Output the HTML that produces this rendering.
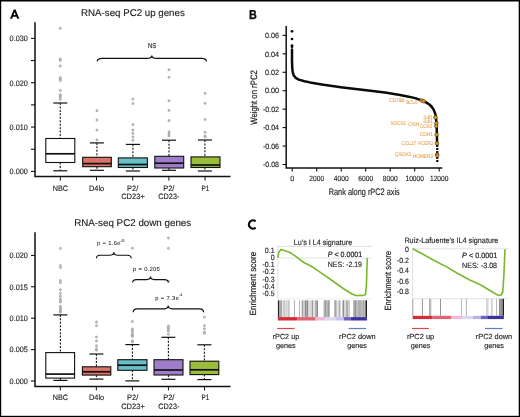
<!DOCTYPE html><html><head><meta charset="utf-8"><style>
html,body{margin:0;padding:0;background:#fff;width:520px;height:417px;overflow:hidden}
svg{display:block;font-family:"Liberation Sans",sans-serif;will-change:transform;text-rendering:geometricPrecision}
</style></head><body>
<svg width="520" height="417" viewBox="0 0 520 417">
<rect width="520" height="417" fill="#fff"/>
<g>
<path d="M10,18.7 L13.7,9.5 L15.6,9.5 L19.3,18.7 L17.2,18.7 L16.44,16.8 L12.86,16.8 L12.1,18.7 Z M13.57,15 L15.73,15 L14.65,12.3 Z" fill="#0a0a0a" fill-rule="evenodd"/>
<text x="81" y="15.9" font-size="9.8" textLength="103.8" lengthAdjust="spacingAndGlyphs" fill="#1c1c1c" stroke="#1c1c1c" stroke-width="0.13" >RNA-seq PC2 up genes</text>
<path d="M35,22.2 L35,176.6 L230.5,176.6" fill="none" stroke="#111" stroke-width="1.5"/>
<line x1="31" y1="171.40" x2="35" y2="171.40" stroke="#111" stroke-width="1.1"/>
<text x="27.9" y="174.2" font-size="7.9" text-anchor="end" textLength="18.3" lengthAdjust="spacingAndGlyphs" fill="#1c1c1c" stroke="#1c1c1c" stroke-width="0.13" >0.000</text>
<line x1="31" y1="149.23" x2="35" y2="149.23" stroke="#111" stroke-width="1.1"/>
<line x1="31" y1="127.06" x2="35" y2="127.06" stroke="#111" stroke-width="1.1"/>
<text x="27.9" y="129.86" font-size="7.9" text-anchor="end" textLength="18.3" lengthAdjust="spacingAndGlyphs" fill="#1c1c1c" stroke="#1c1c1c" stroke-width="0.13" >0.010</text>
<line x1="31" y1="104.89" x2="35" y2="104.89" stroke="#111" stroke-width="1.1"/>
<line x1="31" y1="82.72" x2="35" y2="82.72" stroke="#111" stroke-width="1.1"/>
<text x="27.9" y="85.52" font-size="7.9" text-anchor="end" textLength="18.3" lengthAdjust="spacingAndGlyphs" fill="#1c1c1c" stroke="#1c1c1c" stroke-width="0.13" >0.020</text>
<line x1="31" y1="60.55" x2="35" y2="60.55" stroke="#111" stroke-width="1.1"/>
<line x1="31" y1="38.38" x2="35" y2="38.38" stroke="#111" stroke-width="1.1"/>
<text x="27.9" y="41.18" font-size="7.9" text-anchor="end" textLength="18.3" lengthAdjust="spacingAndGlyphs" fill="#1c1c1c" stroke="#1c1c1c" stroke-width="0.13" >0.030</text>
<line x1="60.3" y1="176.6" x2="60.3" y2="180.6" stroke="#111" stroke-width="1.0"/>
<line x1="96.5" y1="176.6" x2="96.5" y2="180.6" stroke="#111" stroke-width="1.0"/>
<line x1="132.7" y1="176.6" x2="132.7" y2="180.6" stroke="#111" stroke-width="1.0"/>
<line x1="168.9" y1="176.6" x2="168.9" y2="180.6" stroke="#111" stroke-width="1.0"/>
<line x1="205.1" y1="176.6" x2="205.1" y2="180.6" stroke="#111" stroke-width="1.0"/>
<text x="60.4" y="190.5" font-size="7.8" text-anchor="middle" textLength="15.2" lengthAdjust="spacingAndGlyphs" fill="#1c1c1c" stroke="#1c1c1c" stroke-width="0.13" >NBC</text>
<text x="96.6" y="190.5" font-size="7.8" text-anchor="middle" textLength="15.2" lengthAdjust="spacingAndGlyphs" fill="#1c1c1c" stroke="#1c1c1c" stroke-width="0.13" >D4lo</text>
<text x="127.1" y="190.5" font-size="7.8" textLength="11.1" lengthAdjust="spacingAndGlyphs" fill="#1c1c1c" stroke="#1c1c1c" stroke-width="0.13" >P2/</text>
<text x="133.0" y="199.0" font-size="7.8" text-anchor="middle" textLength="23.6" lengthAdjust="spacingAndGlyphs" fill="#1c1c1c" stroke="#1c1c1c" stroke-width="0.13" >CD23+</text>
<text x="163.2" y="190.5" font-size="7.8" textLength="11.2" lengthAdjust="spacingAndGlyphs" fill="#1c1c1c" stroke="#1c1c1c" stroke-width="0.13" >P2/</text>
<text x="168.85" y="199.0" font-size="7.8" text-anchor="middle" textLength="21.1" lengthAdjust="spacingAndGlyphs" fill="#1c1c1c" stroke="#1c1c1c" stroke-width="0.13" >CD23-</text>
<text x="205.35" y="190.5" font-size="7.8" text-anchor="middle" textLength="7.7" lengthAdjust="spacingAndGlyphs" fill="#1c1c1c" stroke="#1c1c1c" stroke-width="0.13" >P1</text>
<line x1="60.25" y1="103.0" x2="60.25" y2="138.5" stroke="#111" stroke-width="1.1" stroke-dasharray="2 1.45"/>
<line x1="60.25" y1="162.5" x2="60.25" y2="170.8" stroke="#111" stroke-width="1.1" stroke-dasharray="2 1.45"/>
<line x1="53.25" y1="103.0" x2="67.25" y2="103.0" stroke="#111" stroke-width="1.2"/>
<line x1="53.25" y1="170.8" x2="67.25" y2="170.8" stroke="#111" stroke-width="1.2"/>
<rect x="45.8" y="138.5" width="29.0" height="24.0" fill="#ffffff" stroke="#111" stroke-width="1.1"/>
<line x1="45.8" y1="153.8" x2="74.8" y2="153.8" stroke="#111" stroke-width="1.7"/>
<circle cx="60.3" cy="28.4" r="1.05" fill="#cfcfcf" stroke="#8a8a8a" stroke-width="0.6"/>
<circle cx="60.3" cy="59.1" r="1.05" fill="#cfcfcf" stroke="#8a8a8a" stroke-width="0.6"/>
<circle cx="60.3" cy="60.4" r="1.05" fill="#cfcfcf" stroke="#8a8a8a" stroke-width="0.6"/>
<circle cx="60.3" cy="66" r="1.05" fill="#cfcfcf" stroke="#8a8a8a" stroke-width="0.6"/>
<circle cx="60.3" cy="77.7" r="1.05" fill="#cfcfcf" stroke="#8a8a8a" stroke-width="0.6"/>
<circle cx="60.3" cy="79" r="1.05" fill="#cfcfcf" stroke="#8a8a8a" stroke-width="0.6"/>
<circle cx="60.3" cy="80.5" r="1.05" fill="#cfcfcf" stroke="#8a8a8a" stroke-width="0.6"/>
<circle cx="60.3" cy="90.4" r="1.05" fill="#cfcfcf" stroke="#8a8a8a" stroke-width="0.6"/>
<circle cx="60.3" cy="94.7" r="1.05" fill="#cfcfcf" stroke="#8a8a8a" stroke-width="0.6"/>
<circle cx="60.3" cy="96" r="1.05" fill="#cfcfcf" stroke="#8a8a8a" stroke-width="0.6"/>
<circle cx="60.3" cy="97.3" r="1.05" fill="#cfcfcf" stroke="#8a8a8a" stroke-width="0.6"/>
<circle cx="60.3" cy="99.5" r="1.05" fill="#cfcfcf" stroke="#8a8a8a" stroke-width="0.6"/>
<line x1="96.9" y1="142.9" x2="96.9" y2="157.3" stroke="#111" stroke-width="1.1" stroke-dasharray="2 1.45"/>
<line x1="96.9" y1="166.7" x2="96.9" y2="170.3" stroke="#111" stroke-width="1.1" stroke-dasharray="2 1.45"/>
<line x1="89.9" y1="142.9" x2="103.9" y2="142.9" stroke="#111" stroke-width="1.2"/>
<line x1="89.9" y1="170.3" x2="103.9" y2="170.3" stroke="#111" stroke-width="1.2"/>
<rect x="82.7" y="157.3" width="28.599999999999994" height="9.399999999999977" fill="#db7367" stroke="#111" stroke-width="1.1"/>
<line x1="82.7" y1="163.6" x2="111.3" y2="163.6" stroke="#111" stroke-width="1.7"/>
<circle cx="96.9" cy="110.6" r="1.05" fill="#cfcfcf" stroke="#8a8a8a" stroke-width="0.6"/>
<circle cx="96.9" cy="120" r="1.05" fill="#cfcfcf" stroke="#8a8a8a" stroke-width="0.6"/>
<circle cx="96.9" cy="130.1" r="1.05" fill="#cfcfcf" stroke="#8a8a8a" stroke-width="0.6"/>
<circle cx="96.9" cy="139.9" r="1.05" fill="#cfcfcf" stroke="#8a8a8a" stroke-width="0.6"/>
<line x1="132.9" y1="144.4" x2="132.9" y2="157.9" stroke="#111" stroke-width="1.1" stroke-dasharray="2 1.45"/>
<line x1="132.9" y1="167.5" x2="132.9" y2="171" stroke="#111" stroke-width="1.1" stroke-dasharray="2 1.45"/>
<line x1="125.9" y1="144.4" x2="139.9" y2="144.4" stroke="#111" stroke-width="1.2"/>
<line x1="125.9" y1="171" x2="139.9" y2="171" stroke="#111" stroke-width="1.2"/>
<rect x="118.3" y="157.9" width="29.10000000000001" height="9.599999999999994" fill="#68c0c8" stroke="#111" stroke-width="1.1"/>
<line x1="118.3" y1="164.5" x2="147.4" y2="164.5" stroke="#111" stroke-width="1.7"/>
<circle cx="132.9" cy="99" r="1.05" fill="#cfcfcf" stroke="#8a8a8a" stroke-width="0.6"/>
<circle cx="132.9" cy="103.5" r="1.05" fill="#cfcfcf" stroke="#8a8a8a" stroke-width="0.6"/>
<circle cx="132.9" cy="124.6" r="1.05" fill="#cfcfcf" stroke="#8a8a8a" stroke-width="0.6"/>
<circle cx="132.9" cy="130" r="1.05" fill="#cfcfcf" stroke="#8a8a8a" stroke-width="0.6"/>
<circle cx="132.9" cy="133.4" r="1.05" fill="#cfcfcf" stroke="#8a8a8a" stroke-width="0.6"/>
<circle cx="132.9" cy="137" r="1.05" fill="#cfcfcf" stroke="#8a8a8a" stroke-width="0.6"/>
<circle cx="132.9" cy="140.4" r="1.05" fill="#cfcfcf" stroke="#8a8a8a" stroke-width="0.6"/>
<line x1="169.0" y1="140.2" x2="169.0" y2="156.3" stroke="#111" stroke-width="1.1" stroke-dasharray="2 1.45"/>
<line x1="169.0" y1="168" x2="169.0" y2="170.3" stroke="#111" stroke-width="1.1" stroke-dasharray="2 1.45"/>
<line x1="162.0" y1="140.2" x2="176.0" y2="140.2" stroke="#111" stroke-width="1.2"/>
<line x1="162.0" y1="170.3" x2="176.0" y2="170.3" stroke="#111" stroke-width="1.2"/>
<rect x="154.8" y="156.3" width="28.899999999999977" height="11.699999999999989" fill="#9f7dc9" stroke="#111" stroke-width="1.1"/>
<line x1="154.8" y1="163.2" x2="183.7" y2="163.2" stroke="#111" stroke-width="1.7"/>
<circle cx="169.0" cy="69.8" r="1.05" fill="#cfcfcf" stroke="#8a8a8a" stroke-width="0.6"/>
<circle cx="169.0" cy="77.3" r="1.05" fill="#cfcfcf" stroke="#8a8a8a" stroke-width="0.6"/>
<circle cx="169.0" cy="100.8" r="1.05" fill="#cfcfcf" stroke="#8a8a8a" stroke-width="0.6"/>
<circle cx="169.0" cy="110.4" r="1.05" fill="#cfcfcf" stroke="#8a8a8a" stroke-width="0.6"/>
<circle cx="169.0" cy="120.6" r="1.05" fill="#cfcfcf" stroke="#8a8a8a" stroke-width="0.6"/>
<circle cx="169.0" cy="131.8" r="1.05" fill="#cfcfcf" stroke="#8a8a8a" stroke-width="0.6"/>
<circle cx="169.0" cy="133.9" r="1.05" fill="#cfcfcf" stroke="#8a8a8a" stroke-width="0.6"/>
<circle cx="169.0" cy="135.9" r="1.05" fill="#cfcfcf" stroke="#8a8a8a" stroke-width="0.6"/>
<line x1="204.9" y1="140.0" x2="204.9" y2="156.9" stroke="#111" stroke-width="1.1" stroke-dasharray="2 1.45"/>
<line x1="204.9" y1="167.5" x2="204.9" y2="171" stroke="#111" stroke-width="1.1" stroke-dasharray="2 1.45"/>
<line x1="197.9" y1="140.0" x2="211.9" y2="140.0" stroke="#111" stroke-width="1.2"/>
<line x1="197.9" y1="171" x2="211.9" y2="171" stroke="#111" stroke-width="1.2"/>
<rect x="191" y="156.9" width="29" height="10.599999999999994" fill="#9abd3c" stroke="#111" stroke-width="1.1"/>
<line x1="191" y1="165.0" x2="220" y2="165.0" stroke="#111" stroke-width="1.7"/>
<circle cx="205.1" cy="93.4" r="1.05" fill="#cfcfcf" stroke="#8a8a8a" stroke-width="0.6"/>
<circle cx="205.1" cy="103.3" r="1.05" fill="#cfcfcf" stroke="#8a8a8a" stroke-width="0.6"/>
<circle cx="205.1" cy="119.5" r="1.05" fill="#cfcfcf" stroke="#8a8a8a" stroke-width="0.6"/>
<circle cx="205.1" cy="132.3" r="1.05" fill="#cfcfcf" stroke="#8a8a8a" stroke-width="0.6"/>
<circle cx="205.1" cy="136" r="1.05" fill="#cfcfcf" stroke="#8a8a8a" stroke-width="0.6"/>
<circle cx="205.1" cy="136.9" r="1.05" fill="#cfcfcf" stroke="#8a8a8a" stroke-width="0.6"/>
<path d="M97.2,61.5 Q97.2,58.4 102.2,58.4 L146.8,58.4 Q151.8,58.4 151.8,55.4 Q151.8,58.4 156.8,58.4 L201.5,58.4 Q206.5,58.4 206.5,61.5" fill="none" stroke="#111" stroke-width="1.15"/>
<text x="147.9" y="47.9" font-size="7" textLength="8.2" lengthAdjust="spacingAndGlyphs" fill="#1c1c1c" stroke="#1c1c1c" stroke-width="0.13" >NS</text>
<text x="74.2" y="226.3" font-size="9.8" textLength="117" lengthAdjust="spacingAndGlyphs" fill="#1c1c1c" stroke="#1c1c1c" stroke-width="0.13" >RNA-seq PC2 down genes</text>
<path d="M35,232.2 L35,386.4 L230.5,386.4" fill="none" stroke="#111" stroke-width="1.5"/>
<line x1="31" y1="381.00" x2="35" y2="381.00" stroke="#111" stroke-width="1.1"/>
<text x="27.9" y="383.8" font-size="7.9" text-anchor="end" textLength="18.3" lengthAdjust="spacingAndGlyphs" fill="#1c1c1c" stroke="#1c1c1c" stroke-width="0.13" >0.000</text>
<line x1="31" y1="349.60" x2="35" y2="349.60" stroke="#111" stroke-width="1.1"/>
<text x="27.9" y="352.4" font-size="7.9" text-anchor="end" textLength="18.3" lengthAdjust="spacingAndGlyphs" fill="#1c1c1c" stroke="#1c1c1c" stroke-width="0.13" >0.005</text>
<line x1="31" y1="318.20" x2="35" y2="318.20" stroke="#111" stroke-width="1.1"/>
<text x="27.9" y="321.0" font-size="7.9" text-anchor="end" textLength="18.3" lengthAdjust="spacingAndGlyphs" fill="#1c1c1c" stroke="#1c1c1c" stroke-width="0.13" >0.010</text>
<line x1="31" y1="286.80" x2="35" y2="286.80" stroke="#111" stroke-width="1.1"/>
<text x="27.9" y="289.6" font-size="7.9" text-anchor="end" textLength="18.3" lengthAdjust="spacingAndGlyphs" fill="#1c1c1c" stroke="#1c1c1c" stroke-width="0.13" >0.015</text>
<line x1="31" y1="255.40" x2="35" y2="255.40" stroke="#111" stroke-width="1.1"/>
<text x="27.9" y="258.2" font-size="7.9" text-anchor="end" textLength="18.3" lengthAdjust="spacingAndGlyphs" fill="#1c1c1c" stroke="#1c1c1c" stroke-width="0.13" >0.020</text>
<line x1="60.3" y1="386.4" x2="60.3" y2="390.4" stroke="#111" stroke-width="1.0"/>
<line x1="96.35" y1="386.4" x2="96.35" y2="390.4" stroke="#111" stroke-width="1.0"/>
<line x1="132.4" y1="386.4" x2="132.4" y2="390.4" stroke="#111" stroke-width="1.0"/>
<line x1="168.45" y1="386.4" x2="168.45" y2="390.4" stroke="#111" stroke-width="1.0"/>
<line x1="204.5" y1="386.4" x2="204.5" y2="390.4" stroke="#111" stroke-width="1.0"/>
<text x="60.4" y="400.29999999999995" font-size="7.8" text-anchor="middle" textLength="15.2" lengthAdjust="spacingAndGlyphs" fill="#1c1c1c" stroke="#1c1c1c" stroke-width="0.13" >NBC</text>
<text x="96.6" y="400.29999999999995" font-size="7.8" text-anchor="middle" textLength="15.2" lengthAdjust="spacingAndGlyphs" fill="#1c1c1c" stroke="#1c1c1c" stroke-width="0.13" >D4lo</text>
<text x="127.1" y="400.29999999999995" font-size="7.8" textLength="11.1" lengthAdjust="spacingAndGlyphs" fill="#1c1c1c" stroke="#1c1c1c" stroke-width="0.13" >P2/</text>
<text x="133.0" y="408.79999999999995" font-size="7.8" text-anchor="middle" textLength="23.6" lengthAdjust="spacingAndGlyphs" fill="#1c1c1c" stroke="#1c1c1c" stroke-width="0.13" >CD23+</text>
<text x="163.2" y="400.29999999999995" font-size="7.8" textLength="11.2" lengthAdjust="spacingAndGlyphs" fill="#1c1c1c" stroke="#1c1c1c" stroke-width="0.13" >P2/</text>
<text x="168.85" y="408.79999999999995" font-size="7.8" text-anchor="middle" textLength="21.1" lengthAdjust="spacingAndGlyphs" fill="#1c1c1c" stroke="#1c1c1c" stroke-width="0.13" >CD23-</text>
<text x="205.35" y="400.29999999999995" font-size="7.8" text-anchor="middle" textLength="7.7" lengthAdjust="spacingAndGlyphs" fill="#1c1c1c" stroke="#1c1c1c" stroke-width="0.13" >P1</text>
<line x1="60.4" y1="314.9" x2="60.4" y2="352.6" stroke="#111" stroke-width="1.1" stroke-dasharray="2 1.45"/>
<line x1="60.4" y1="378.1" x2="60.4" y2="380.4" stroke="#111" stroke-width="1.1" stroke-dasharray="2 1.45"/>
<line x1="53.4" y1="314.9" x2="67.4" y2="314.9" stroke="#111" stroke-width="1.2"/>
<line x1="53.4" y1="380.4" x2="67.4" y2="380.4" stroke="#111" stroke-width="1.2"/>
<rect x="45.8" y="352.6" width="28.799999999999997" height="25.5" fill="#ffffff" stroke="#111" stroke-width="1.1"/>
<line x1="45.8" y1="374.1" x2="74.6" y2="374.1" stroke="#111" stroke-width="1.7"/>
<circle cx="60.4" cy="248.4" r="1.05" fill="#cfcfcf" stroke="#8a8a8a" stroke-width="0.6"/>
<circle cx="60.4" cy="265.6" r="1.05" fill="#cfcfcf" stroke="#8a8a8a" stroke-width="0.6"/>
<circle cx="60.4" cy="267.6" r="1.05" fill="#cfcfcf" stroke="#8a8a8a" stroke-width="0.6"/>
<circle cx="60.4" cy="280.6" r="1.05" fill="#cfcfcf" stroke="#8a8a8a" stroke-width="0.6"/>
<circle cx="60.4" cy="282.6" r="1.05" fill="#cfcfcf" stroke="#8a8a8a" stroke-width="0.6"/>
<circle cx="60.4" cy="289.7" r="1.05" fill="#cfcfcf" stroke="#8a8a8a" stroke-width="0.6"/>
<circle cx="60.4" cy="293.4" r="1.05" fill="#cfcfcf" stroke="#8a8a8a" stroke-width="0.6"/>
<circle cx="60.4" cy="296.2" r="1.05" fill="#cfcfcf" stroke="#8a8a8a" stroke-width="0.6"/>
<circle cx="60.4" cy="298.7" r="1.05" fill="#cfcfcf" stroke="#8a8a8a" stroke-width="0.6"/>
<circle cx="60.4" cy="300.7" r="1.05" fill="#cfcfcf" stroke="#8a8a8a" stroke-width="0.6"/>
<circle cx="60.4" cy="302" r="1.05" fill="#cfcfcf" stroke="#8a8a8a" stroke-width="0.6"/>
<circle cx="60.4" cy="306.4" r="1.05" fill="#cfcfcf" stroke="#8a8a8a" stroke-width="0.6"/>
<circle cx="60.4" cy="308.1" r="1.05" fill="#cfcfcf" stroke="#8a8a8a" stroke-width="0.6"/>
<circle cx="60.4" cy="309.7" r="1.05" fill="#cfcfcf" stroke="#8a8a8a" stroke-width="0.6"/>
<circle cx="60.4" cy="311.3" r="1.05" fill="#cfcfcf" stroke="#8a8a8a" stroke-width="0.6"/>
<circle cx="60.4" cy="312.3" r="1.05" fill="#cfcfcf" stroke="#8a8a8a" stroke-width="0.6"/>
<line x1="96.4" y1="354.0" x2="96.4" y2="366.8" stroke="#111" stroke-width="1.1" stroke-dasharray="2 1.45"/>
<line x1="96.4" y1="375.1" x2="96.4" y2="379.1" stroke="#111" stroke-width="1.1" stroke-dasharray="2 1.45"/>
<line x1="89.4" y1="354.0" x2="103.4" y2="354.0" stroke="#111" stroke-width="1.2"/>
<line x1="89.4" y1="379.1" x2="103.4" y2="379.1" stroke="#111" stroke-width="1.2"/>
<rect x="82.4" y="366.8" width="28.39999999999999" height="8.300000000000011" fill="#db7367" stroke="#111" stroke-width="1.1"/>
<line x1="82.4" y1="371.8" x2="110.8" y2="371.8" stroke="#111" stroke-width="1.7"/>
<circle cx="96.5" cy="322" r="1.05" fill="#cfcfcf" stroke="#8a8a8a" stroke-width="0.6"/>
<circle cx="96.5" cy="325.6" r="1.05" fill="#cfcfcf" stroke="#8a8a8a" stroke-width="0.6"/>
<circle cx="96.5" cy="337.1" r="1.05" fill="#cfcfcf" stroke="#8a8a8a" stroke-width="0.6"/>
<circle cx="96.5" cy="341" r="1.05" fill="#cfcfcf" stroke="#8a8a8a" stroke-width="0.6"/>
<circle cx="96.5" cy="345.7" r="1.05" fill="#cfcfcf" stroke="#8a8a8a" stroke-width="0.6"/>
<circle cx="96.5" cy="348.7" r="1.05" fill="#cfcfcf" stroke="#8a8a8a" stroke-width="0.6"/>
<circle cx="96.5" cy="350.2" r="1.05" fill="#cfcfcf" stroke="#8a8a8a" stroke-width="0.6"/>
<line x1="132.4" y1="344.6" x2="132.4" y2="359.7" stroke="#111" stroke-width="1.1" stroke-dasharray="2 1.45"/>
<line x1="132.4" y1="370.3" x2="132.4" y2="380.9" stroke="#111" stroke-width="1.1" stroke-dasharray="2 1.45"/>
<line x1="125.4" y1="344.6" x2="139.4" y2="344.6" stroke="#111" stroke-width="1.2"/>
<line x1="125.4" y1="380.9" x2="139.4" y2="380.9" stroke="#111" stroke-width="1.2"/>
<rect x="117.8" y="359.7" width="29.200000000000003" height="10.600000000000023" fill="#68c0c8" stroke="#111" stroke-width="1.1"/>
<line x1="117.8" y1="365.2" x2="147" y2="365.2" stroke="#111" stroke-width="1.7"/>
<circle cx="132.4" cy="248.3" r="1.05" fill="#cfcfcf" stroke="#8a8a8a" stroke-width="0.6"/>
<circle cx="132.4" cy="321.5" r="1.05" fill="#cfcfcf" stroke="#8a8a8a" stroke-width="0.6"/>
<circle cx="132.4" cy="329" r="1.05" fill="#cfcfcf" stroke="#8a8a8a" stroke-width="0.6"/>
<circle cx="132.4" cy="330.7" r="1.05" fill="#cfcfcf" stroke="#8a8a8a" stroke-width="0.6"/>
<circle cx="132.4" cy="332.3" r="1.05" fill="#cfcfcf" stroke="#8a8a8a" stroke-width="0.6"/>
<circle cx="132.4" cy="334.4" r="1.05" fill="#cfcfcf" stroke="#8a8a8a" stroke-width="0.6"/>
<circle cx="132.4" cy="335.5" r="1.05" fill="#cfcfcf" stroke="#8a8a8a" stroke-width="0.6"/>
<circle cx="132.4" cy="336.6" r="1.05" fill="#cfcfcf" stroke="#8a8a8a" stroke-width="0.6"/>
<circle cx="132.4" cy="340.9" r="1.05" fill="#cfcfcf" stroke="#8a8a8a" stroke-width="0.6"/>
<circle cx="132.4" cy="342.1" r="1.05" fill="#cfcfcf" stroke="#8a8a8a" stroke-width="0.6"/>
<line x1="168.4" y1="337.3" x2="168.4" y2="359.7" stroke="#111" stroke-width="1.1" stroke-dasharray="2 1.45"/>
<line x1="168.4" y1="375" x2="168.4" y2="379.3" stroke="#111" stroke-width="1.1" stroke-dasharray="2 1.45"/>
<line x1="161.4" y1="337.3" x2="175.4" y2="337.3" stroke="#111" stroke-width="1.2"/>
<line x1="161.4" y1="379.3" x2="175.4" y2="379.3" stroke="#111" stroke-width="1.2"/>
<rect x="154" y="359.7" width="29" height="15.300000000000011" fill="#9f7dc9" stroke="#111" stroke-width="1.1"/>
<line x1="154" y1="370" x2="183" y2="370" stroke="#111" stroke-width="1.7"/>
<circle cx="168.4" cy="238" r="1.05" fill="#cfcfcf" stroke="#8a8a8a" stroke-width="0.6"/>
<circle cx="168.4" cy="248.3" r="1.05" fill="#cfcfcf" stroke="#8a8a8a" stroke-width="0.6"/>
<circle cx="168.4" cy="281.3" r="1.05" fill="#cfcfcf" stroke="#8a8a8a" stroke-width="0.6"/>
<circle cx="168.4" cy="326" r="1.05" fill="#cfcfcf" stroke="#8a8a8a" stroke-width="0.6"/>
<circle cx="168.4" cy="327.8" r="1.05" fill="#cfcfcf" stroke="#8a8a8a" stroke-width="0.6"/>
<circle cx="168.4" cy="329.4" r="1.05" fill="#cfcfcf" stroke="#8a8a8a" stroke-width="0.6"/>
<circle cx="168.4" cy="331" r="1.05" fill="#cfcfcf" stroke="#8a8a8a" stroke-width="0.6"/>
<circle cx="168.4" cy="334.2" r="1.05" fill="#cfcfcf" stroke="#8a8a8a" stroke-width="0.6"/>
<line x1="204.4" y1="344.8" x2="204.4" y2="361.2" stroke="#111" stroke-width="1.1" stroke-dasharray="2 1.45"/>
<line x1="204.4" y1="374.6" x2="204.4" y2="379.6" stroke="#111" stroke-width="1.1" stroke-dasharray="2 1.45"/>
<line x1="197.4" y1="344.8" x2="211.4" y2="344.8" stroke="#111" stroke-width="1.2"/>
<line x1="197.4" y1="379.6" x2="211.4" y2="379.6" stroke="#111" stroke-width="1.2"/>
<rect x="190" y="361.2" width="28.80000000000001" height="13.400000000000034" fill="#9abd3c" stroke="#111" stroke-width="1.1"/>
<line x1="190" y1="369.8" x2="218.8" y2="369.8" stroke="#111" stroke-width="1.7"/>
<circle cx="204.4" cy="317.2" r="1.05" fill="#cfcfcf" stroke="#8a8a8a" stroke-width="0.6"/>
<circle cx="204.4" cy="325.6" r="1.05" fill="#cfcfcf" stroke="#8a8a8a" stroke-width="0.6"/>
<circle cx="204.4" cy="328.8" r="1.05" fill="#cfcfcf" stroke="#8a8a8a" stroke-width="0.6"/>
<circle cx="204.4" cy="332.3" r="1.05" fill="#cfcfcf" stroke="#8a8a8a" stroke-width="0.6"/>
<circle cx="204.4" cy="333.4" r="1.05" fill="#cfcfcf" stroke="#8a8a8a" stroke-width="0.6"/>
<path d="M96.4,258.2 Q96.4,255.2 100.4,255.2 L110.0,255.2 Q113.8,255.2 113.8,252.2 Q113.8,255.2 117.6,255.2 L127.19999999999999,255.2 Q131.2,255.2 131.2,258.2" fill="none" stroke="#111" stroke-width="1.15"/>
<path d="M132.6,282.6 Q132.6,279.6 136.6,279.6 L146.7,279.6 Q150.5,279.6 150.5,276.6 Q150.5,279.6 154.3,279.6 L164.3,279.6 Q168.3,279.6 168.3,282.6" fill="none" stroke="#111" stroke-width="1.15"/>
<path d="M133.2,312.2 Q133.2,308.8 137.2,308.8 L164.39999999999998,308.8 Q168.2,308.8 168.2,305.6 Q168.2,308.8 172.0,308.8 L199.6,308.8 Q203.6,308.8 203.6,312.2" fill="none" stroke="#111" stroke-width="1.15"/>
<text x="96.9" y="245.1" font-size="5.8" textLength="23.6" lengthAdjust="spacing" fill="#1c1c1c" stroke="#1c1c1c" stroke-width="0.06" >p = 1.6e</text>
<text x="120.4" y="241.7" font-size="3.8" textLength="4.4" lengthAdjust="spacingAndGlyphs" fill="#1c1c1c" stroke="#1c1c1c" stroke-width="0.06" >-11</text>
<text x="133.1" y="270.5" font-size="5.9" textLength="26.8" lengthAdjust="spacing" fill="#1c1c1c" stroke="#1c1c1c" stroke-width="0.06" >p = 0.205</text>
<text x="155.2" y="299.8" font-size="5.8" textLength="23.7" lengthAdjust="spacing" fill="#1c1c1c" stroke="#1c1c1c" stroke-width="0.06" >p = 7.3e</text>
<text x="179.4" y="295.7" font-size="3.8" textLength="2.8" lengthAdjust="spacingAndGlyphs" fill="#1c1c1c" stroke="#1c1c1c" stroke-width="0.06" >-4</text>
</g>
<g>
<text x="249.1" y="18.7" font-size="13" font-weight="bold" fill="#0a0a0a" stroke="#0a0a0a" stroke-width="0.35" textLength="7.8" lengthAdjust="spacingAndGlyphs">B</text>
<path d="M286.2,25.9 L286.2,168 L442.3,168" fill="none" stroke="#111" stroke-width="1.5"/>
<line x1="282.5" y1="35.40" x2="286.2" y2="35.40" stroke="#111" stroke-width="1.1"/>
<text x="279.0" y="38.1" font-size="7.7" text-anchor="end" textLength="14.1" lengthAdjust="spacingAndGlyphs" fill="#1c1c1c" stroke="#1c1c1c" stroke-width="0.13" >0.06</text>
<line x1="282.5" y1="53.84" x2="286.2" y2="53.84" stroke="#111" stroke-width="1.1"/>
<text x="279.0" y="56.54" font-size="7.7" text-anchor="end" textLength="14.1" lengthAdjust="spacingAndGlyphs" fill="#1c1c1c" stroke="#1c1c1c" stroke-width="0.13" >0.04</text>
<line x1="282.5" y1="72.28" x2="286.2" y2="72.28" stroke="#111" stroke-width="1.1"/>
<text x="279.0" y="74.98" font-size="7.7" text-anchor="end" textLength="14.1" lengthAdjust="spacingAndGlyphs" fill="#1c1c1c" stroke="#1c1c1c" stroke-width="0.13" >0.02</text>
<line x1="282.5" y1="90.72" x2="286.2" y2="90.72" stroke="#111" stroke-width="1.1"/>
<text x="279.0" y="93.42" font-size="7.7" text-anchor="end" textLength="14.1" lengthAdjust="spacingAndGlyphs" fill="#1c1c1c" stroke="#1c1c1c" stroke-width="0.13" >0.00</text>
<line x1="282.5" y1="109.16" x2="286.2" y2="109.16" stroke="#111" stroke-width="1.1"/>
<text x="279.0" y="111.86" font-size="7.7" text-anchor="end" textLength="16.1" lengthAdjust="spacingAndGlyphs" fill="#1c1c1c" stroke="#1c1c1c" stroke-width="0.13" >-0.02</text>
<line x1="282.5" y1="127.60" x2="286.2" y2="127.60" stroke="#111" stroke-width="1.1"/>
<text x="279.0" y="130.3" font-size="7.7" text-anchor="end" textLength="16.1" lengthAdjust="spacingAndGlyphs" fill="#1c1c1c" stroke="#1c1c1c" stroke-width="0.13" >-0.04</text>
<line x1="282.5" y1="146.04" x2="286.2" y2="146.04" stroke="#111" stroke-width="1.1"/>
<text x="279.0" y="148.74" font-size="7.7" text-anchor="end" textLength="16.1" lengthAdjust="spacingAndGlyphs" fill="#1c1c1c" stroke="#1c1c1c" stroke-width="0.13" >-0.06</text>
<line x1="282.5" y1="164.48" x2="286.2" y2="164.48" stroke="#111" stroke-width="1.1"/>
<text x="279.0" y="167.18" font-size="7.7" text-anchor="end" textLength="16.1" lengthAdjust="spacingAndGlyphs" fill="#1c1c1c" stroke="#1c1c1c" stroke-width="0.13" >-0.08</text>
<line x1="292.20" y1="168" x2="292.20" y2="171.6" stroke="#111" stroke-width="1.1"/>
<text x="292.2" y="181.1" font-size="7.5" text-anchor="middle" textLength="4.0" lengthAdjust="spacingAndGlyphs" fill="#1c1c1c" stroke="#1c1c1c" stroke-width="0.13" >0</text>
<line x1="316.70" y1="168" x2="316.70" y2="171.6" stroke="#111" stroke-width="1.1"/>
<text x="316.7" y="181.1" font-size="7.5" text-anchor="middle" textLength="14.8" lengthAdjust="spacingAndGlyphs" fill="#1c1c1c" stroke="#1c1c1c" stroke-width="0.13" >2000</text>
<line x1="341.20" y1="168" x2="341.20" y2="171.6" stroke="#111" stroke-width="1.1"/>
<text x="341.2" y="181.1" font-size="7.5" text-anchor="middle" textLength="14.8" lengthAdjust="spacingAndGlyphs" fill="#1c1c1c" stroke="#1c1c1c" stroke-width="0.13" >4000</text>
<line x1="365.70" y1="168" x2="365.70" y2="171.6" stroke="#111" stroke-width="1.1"/>
<text x="365.7" y="181.1" font-size="7.5" text-anchor="middle" textLength="14.8" lengthAdjust="spacingAndGlyphs" fill="#1c1c1c" stroke="#1c1c1c" stroke-width="0.13" >6000</text>
<line x1="390.20" y1="168" x2="390.20" y2="171.6" stroke="#111" stroke-width="1.1"/>
<text x="390.2" y="181.1" font-size="7.5" text-anchor="middle" textLength="14.8" lengthAdjust="spacingAndGlyphs" fill="#1c1c1c" stroke="#1c1c1c" stroke-width="0.13" >8000</text>
<line x1="414.70" y1="168" x2="414.70" y2="171.6" stroke="#111" stroke-width="1.1"/>
<text x="414.7" y="181.1" font-size="7.5" text-anchor="middle" textLength="18.5" lengthAdjust="spacingAndGlyphs" fill="#1c1c1c" stroke="#1c1c1c" stroke-width="0.13" >10000</text>
<line x1="439.20" y1="168" x2="439.20" y2="171.6" stroke="#111" stroke-width="1.1"/>
<text x="439.2" y="181.1" font-size="7.5" text-anchor="middle" textLength="18.5" lengthAdjust="spacingAndGlyphs" fill="#1c1c1c" stroke="#1c1c1c" stroke-width="0.13" >12000</text>
<text x="328.7" y="194.5" font-size="9.5" textLength="71.1" lengthAdjust="spacingAndGlyphs" fill="#1a1a1a" stroke="#1a1a1a" stroke-width="0.13" >Rank along rPC2 axis</text>
<text x="0" y="0" font-size="9.3" fill="#1a1a1a" stroke="#1a1a1a" stroke-width="0.2" textLength="54.6" lengthAdjust="spacingAndGlyphs" transform="translate(256.5,124.8) rotate(-90)">Weight on rPC2</text>
<path d="M292.0,49.5 L292.0,60 L292.2,67 L292.6,71.5 L293.6,75.2 L295.6,77.8 L298.8,79.6 L304.5,81.2 L310,82.4 L323.5,84.7 L342.7,87.4 L362,89.7 L385,92.6 L400,94.9 L410,96.9 L416,98.4 L421.5,100.4 L425.6,102.1 L429.4,104.5 L431.9,107 L433.6,109.6 L434.8,112.4 L435.7,115.5 L436.1,119 L436.6,125 L436.9,135 L437.1,145" fill="none" stroke="#0a0a0a" stroke-width="2.5" stroke-linecap="round" stroke-linejoin="round"/>
<line x1="437.2" y1="145" x2="437.3" y2="163" stroke="#0a0a0a" stroke-width="2.2" stroke-dasharray="2 1"/>
<circle cx="292" cy="31.3" r="1.35" fill="#0a0a0a"/>
<circle cx="292" cy="39" r="1.35" fill="#0a0a0a"/>
<circle cx="292" cy="45.6" r="1.35" fill="#0a0a0a"/>
<circle cx="292" cy="46.8" r="1.35" fill="#0a0a0a"/>
<circle cx="421.5" cy="100.4" r="1.8" fill="#e8962c" stroke="#2a1a00" stroke-width="0.5"/>
<circle cx="423.7" cy="101.3" r="1.8" fill="#e8962c" stroke="#2a1a00" stroke-width="0.5"/>
<circle cx="435.5" cy="117.4" r="1.8" fill="#e8962c" stroke="#2a1a00" stroke-width="0.5"/>
<circle cx="436.4" cy="123.2" r="1.8" fill="#e8962c" stroke="#2a1a00" stroke-width="0.5"/>
<circle cx="436.2" cy="126.1" r="1.8" fill="#e8962c" stroke="#2a1a00" stroke-width="0.5"/>
<circle cx="436.6" cy="134.6" r="1.8" fill="#e8962c" stroke="#2a1a00" stroke-width="0.5"/>
<circle cx="436.9" cy="143.4" r="1.8" fill="#e8962c" stroke="#2a1a00" stroke-width="0.5"/>
<circle cx="437.1" cy="154.6" r="1.8" fill="#e8962c" stroke="#2a1a00" stroke-width="0.5"/>
<circle cx="437.2" cy="155.6" r="1.8" fill="#e8962c" stroke="#2a1a00" stroke-width="0.5"/>
<text x="388.9" y="102.3" font-size="5.4" textLength="15.7" lengthAdjust="spacingAndGlyphs" fill="#e8a352" stroke="#e8a352" stroke-width="0.1" >CD79B</text>
<text x="406.2" y="103.8" font-size="5.4" textLength="11.5" lengthAdjust="spacingAndGlyphs" fill="#e8a352" stroke="#e8a352" stroke-width="0.1" >BCL6</text>
<text x="423.5" y="118.5" font-size="5.4" textLength="8.8" lengthAdjust="spacingAndGlyphs" fill="#e8a352" stroke="#e8a352" stroke-width="0.1" >IL4R</text>
<text x="390.5" y="125.1" font-size="5.4" textLength="15.7" lengthAdjust="spacingAndGlyphs" fill="#e8a352" stroke="#e8a352" stroke-width="0.1" >SOCS1</text>
<text x="408.2" y="125.7" font-size="5.4" textLength="11" lengthAdjust="spacingAndGlyphs" fill="#e8a352" stroke="#e8a352" stroke-width="0.1" >CISH</text>
<text x="423.5" y="123" font-size="5.4" textLength="9.3" lengthAdjust="spacingAndGlyphs" fill="#e8a352" stroke="#e8a352" stroke-width="0.1" >IL4I1</text>
<text x="420" y="128" font-size="5.4" textLength="12.3" lengthAdjust="spacingAndGlyphs" fill="#e8a352" stroke="#e8a352" stroke-width="0.1" >CCR2</text>
<text x="419.7" y="136.2" font-size="5.4" textLength="13.4" lengthAdjust="spacingAndGlyphs" fill="#e8a352" stroke="#e8a352" stroke-width="0.1" >CDH1</text>
<text x="401.5" y="144.6" font-size="5.4" textLength="14.7" lengthAdjust="spacingAndGlyphs" fill="#e8a352" stroke="#e8a352" stroke-width="0.1" >CCL17</text>
<text x="418.2" y="145.1" font-size="5.4" textLength="14.9" lengthAdjust="spacingAndGlyphs" fill="#e8a352" stroke="#e8a352" stroke-width="0.1" >FCER2</text>
<text x="395" y="155.7" font-size="5.4" textLength="16.5" lengthAdjust="spacingAndGlyphs" fill="#e8a352" stroke="#e8a352" stroke-width="0.1" >QSOX1</text>
<text x="412.8" y="157.7" font-size="5.4" textLength="20.3" lengthAdjust="spacingAndGlyphs" fill="#e8a352" stroke="#e8a352" stroke-width="0.1" >HOMER2</text>
</g>
<g>
<path d="M255.6,221.3 A4.1,4.15 0 1 0 255.6,227.7" fill="none" stroke="#0a0a0a" stroke-width="2.2"/>
<path d="M277.8,298.3 L277.8,246.4 L371.6,246.4" fill="none" stroke="#d9d9d9" stroke-width="0.8"/>
<line x1="277.8" y1="258" x2="371.6" y2="258" stroke="#d9d9d9" stroke-width="0.8"/>
<line x1="277.8" y1="298.8" x2="371.6" y2="298.8" stroke="#e8e8e8" stroke-width="0.8"/>
<text x="293.8" y="244.9" font-size="7.8" textLength="58.4" lengthAdjust="spacingAndGlyphs" fill="#1c1c1c" stroke="#1c1c1c" stroke-width="0.13" >Lu's I L4 signature</text>
<text x="274.6" y="252.95" font-size="7.7" text-anchor="end" textLength="9.74" lengthAdjust="spacingAndGlyphs" fill="#1c1c1c" stroke="#1c1c1c" stroke-width="0.13" >0.1</text>
<text x="274.6" y="260.1" font-size="7.7" text-anchor="end" textLength="3.9" lengthAdjust="spacingAndGlyphs" fill="#1c1c1c" stroke="#1c1c1c" stroke-width="0.13" >0</text>
<text x="274.6" y="267.25" font-size="7.7" text-anchor="end" textLength="12.07" lengthAdjust="spacingAndGlyphs" fill="#1c1c1c" stroke="#1c1c1c" stroke-width="0.13" >-0.1</text>
<text x="274.6" y="274.4" font-size="7.7" text-anchor="end" textLength="12.07" lengthAdjust="spacingAndGlyphs" fill="#1c1c1c" stroke="#1c1c1c" stroke-width="0.13" >-0.2</text>
<text x="274.6" y="281.55" font-size="7.7" text-anchor="end" textLength="12.07" lengthAdjust="spacingAndGlyphs" fill="#1c1c1c" stroke="#1c1c1c" stroke-width="0.13" >-0.3</text>
<text x="274.6" y="288.7" font-size="7.7" text-anchor="end" textLength="12.07" lengthAdjust="spacingAndGlyphs" fill="#1c1c1c" stroke="#1c1c1c" stroke-width="0.13" >-0.4</text>
<text x="274.6" y="295.85" font-size="7.7" text-anchor="end" textLength="12.07" lengthAdjust="spacingAndGlyphs" fill="#1c1c1c" stroke="#1c1c1c" stroke-width="0.13" >-0.5</text>
<text x="0" y="0" font-size="9" fill="#1c1c1c" stroke="#1c1c1c" stroke-width="0.2" textLength="63.8" lengthAdjust="spacingAndGlyphs" transform="translate(256.3,315.5) rotate(-90)">Enrichment score</text>
<text x="327.8" y="256.6" font-size="7.7" fill="#1c1c1c" stroke="#1c1c1c" stroke-width="0.2" textLength="34.4" lengthAdjust="spacingAndGlyphs"><tspan font-style="italic">P</tspan> &lt; 0.0001</text>
<text x="327.8" y="266.8" font-size="7.7" textLength="34.2" lengthAdjust="spacingAndGlyphs" fill="#1c1c1c" stroke="#1c1c1c" stroke-width="0.13" >NES: -2.19</text>
<path d="M277.8,257.8 L278.7,252.6 L280.6,249.6 L283.7,250.3 L290,252.4 L295.4,256.1 L303.8,262.5 L312.3,266.8 L322.9,274.1 L333.4,281.5 L344,289 L352.4,294.2 L356.7,295.8 L360,295.3 L363,295.5 L365.6,294.4 L366.4,285 L366.9,270 L367.3,258" fill="none" stroke="#7ab82c" stroke-width="1.6" stroke-linejoin="round"/>
<path d="M412.6,298.7 L412.6,248.8 L508.5,248.8" fill="none" stroke="#d9d9d9" stroke-width="0.8"/>
<line x1="412.6" y1="298.7" x2="508.5" y2="298.7" stroke="#d9d9d9" stroke-width="0.8"/>
<text x="404.4" y="243.1" font-size="7.8" textLength="94" lengthAdjust="spacingAndGlyphs" fill="#1c1c1c" stroke="#1c1c1c" stroke-width="0.13" >Ruiz-Lafuente's IL4 signature</text>
<text x="408.9" y="252.05" font-size="7.7" text-anchor="end" textLength="3.9" lengthAdjust="spacingAndGlyphs" fill="#1c1c1c" stroke="#1c1c1c" stroke-width="0.13" >0</text>
<text x="408.9" y="262.55" font-size="7.7" text-anchor="end" textLength="12.07" lengthAdjust="spacingAndGlyphs" fill="#1c1c1c" stroke="#1c1c1c" stroke-width="0.13" >-0.2</text>
<text x="408.9" y="273.05" font-size="7.7" text-anchor="end" textLength="12.07" lengthAdjust="spacingAndGlyphs" fill="#1c1c1c" stroke="#1c1c1c" stroke-width="0.13" >-0.4</text>
<text x="408.9" y="283.55" font-size="7.7" text-anchor="end" textLength="12.07" lengthAdjust="spacingAndGlyphs" fill="#1c1c1c" stroke="#1c1c1c" stroke-width="0.13" >-0.6</text>
<text x="408.9" y="294.05" font-size="7.7" text-anchor="end" textLength="12.07" lengthAdjust="spacingAndGlyphs" fill="#1c1c1c" stroke="#1c1c1c" stroke-width="0.13" >-0.8</text>
<text x="0" y="0" font-size="9" fill="#1c1c1c" stroke="#1c1c1c" stroke-width="0.2" textLength="59.6" lengthAdjust="spacingAndGlyphs" transform="translate(391.2,310.5) rotate(-90)">Enrichment score</text>
<text x="462.1" y="257.9" font-size="7.7" fill="#1c1c1c" stroke="#1c1c1c" stroke-width="0.2" textLength="35.3" lengthAdjust="spacingAndGlyphs"><tspan font-style="italic">P</tspan> &lt; 0.0001</text>
<text x="462.1" y="268.2" font-size="7.7" textLength="35" lengthAdjust="spacingAndGlyphs" fill="#1c1c1c" stroke="#1c1c1c" stroke-width="0.13" >NES: -3.08</text>
<path d="M412.7,248.8 L423.1,254.3 L434.6,260.8 L446.2,266.6 L457.7,273.5 L469.3,279.7 L480.8,285 L492.4,292 L498.2,295.4 L501.2,295 L502.8,292 L503.9,274.6 L505,249.2" fill="none" stroke="#7ab82c" stroke-width="1.6" stroke-linejoin="round"/>
<rect x="277.9" y="300.3" width="1.10" height="16.80" fill="#222"/>
<rect x="279.0" y="300.3" width="3.00" height="16.80" fill="#a9a9a9"/>
<rect x="282.0" y="300.3" width="1.00" height="16.80" fill="#e4e4e4"/>
<rect x="283.0" y="300.3" width="6.70" height="16.80" fill="#d9d9d9"/>
<rect x="283.6" y="300.3" width="0.90" height="16.80" fill="#bdbdbd"/>
<rect x="288.4" y="300.3" width="1.10" height="16.80" fill="#bdbdbd"/>
<rect x="294.1" y="300.3" width="0.90" height="16.80" fill="#aaaaaa"/>
<rect x="299.0" y="300.3" width="1.00" height="16.80" fill="#b5b5b5"/>
<rect x="301.7" y="300.3" width="1.30" height="16.80" fill="#a0a0a0"/>
<rect x="303.0" y="300.3" width="1.80" height="16.80" fill="#d2d2d2"/>
<rect x="304.8" y="300.3" width="1.20" height="16.80" fill="#8e8e8e"/>
<rect x="306.0" y="300.3" width="0.50" height="16.80" fill="#c8c8c8"/>
<rect x="306.5" y="300.3" width="1.40" height="16.80" fill="#727272"/>
<rect x="307.9" y="300.3" width="3.90" height="16.80" fill="#dadada"/>
<rect x="311.8" y="300.3" width="1.40" height="16.80" fill="#9c9c9c"/>
<rect x="313.2" y="300.3" width="1.80" height="16.80" fill="#e2e2e2"/>
<rect x="315.0" y="300.3" width="0.80" height="16.80" fill="#a0a0a0"/>
<rect x="316.3" y="300.3" width="1.70" height="16.80" fill="#8c8c8c"/>
<rect x="323.2" y="300.3" width="6.80" height="16.80" fill="#d2d2d2"/>
<rect x="324.0" y="300.3" width="0.80" height="16.80" fill="#b0b0b0"/>
<rect x="325.2" y="300.3" width="1.00" height="16.80" fill="#8e8e8e"/>
<rect x="326.8" y="300.3" width="0.80" height="16.80" fill="#a2a2a2"/>
<rect x="328.2" y="300.3" width="1.10" height="16.80" fill="#8e8e8e"/>
<rect x="334.0" y="300.3" width="3.50" height="16.80" fill="#c6c6c6"/>
<rect x="334.8" y="300.3" width="1.00" height="16.80" fill="#a0a0a0"/>
<rect x="338.5" y="300.3" width="2.00" height="16.80" fill="#b0b0b0"/>
<rect x="342.5" y="300.3" width="1.50" height="16.80" fill="#8e8e8e"/>
<rect x="344.0" y="300.3" width="2.00" height="16.80" fill="#dadada"/>
<rect x="346.0" y="300.3" width="2.50" height="16.80" fill="#b0b0b0"/>
<rect x="348.5" y="300.3" width="1.50" height="16.80" fill="#cacaca"/>
<rect x="353.0" y="300.3" width="4.00" height="16.80" fill="#bcbcbc"/>
<rect x="354.6" y="300.3" width="1.40" height="16.80" fill="#909090"/>
<rect x="357.0" y="300.3" width="5.00" height="16.80" fill="#c4c4c4"/>
<rect x="358.6" y="300.3" width="0.80" height="16.80" fill="#8e8e8e"/>
<rect x="360.4" y="300.3" width="0.80" height="16.80" fill="#a0a0a0"/>
<rect x="362.0" y="300.3" width="3.20" height="16.80" fill="#c0c0c0"/>
<rect x="363.0" y="300.3" width="1.00" height="16.80" fill="#a8a8a8"/>
<rect x="365.5" y="300.3" width="1.40" height="16.80" fill="#080808"/>
<rect x="277.9" y="317.1" width="19.30" height="3.40" fill="#d52b3b"/>
<rect x="297.2" y="317.1" width="18.40" height="3.40" fill="#e06373"/>
<rect x="315.6" y="317.1" width="9.70" height="3.40" fill="#eeb8da"/>
<rect x="325.3" y="317.1" width="10.70" height="3.40" fill="#dcd6f2"/>
<rect x="336.0" y="317.1" width="7.80" height="3.40" fill="#c9c1ec"/>
<rect x="343.8" y="317.1" width="7.00" height="3.40" fill="#6a64c4"/>
<rect x="350.8" y="317.1" width="16.10" height="3.40" fill="#3a33a0"/>
<rect x="412.4" y="298.9" width="0.80" height="16.90" fill="#8a8a8a"/>
<rect x="421.9" y="298.9" width="0.80" height="16.90" fill="#7a7a7a"/>
<rect x="429.3" y="298.9" width="0.80" height="16.90" fill="#8a8a8a"/>
<rect x="430.5" y="298.9" width="0.70" height="16.90" fill="#8a8a8a"/>
<rect x="440.2" y="298.9" width="0.80" height="16.90" fill="#7a7a7a"/>
<rect x="461.2" y="298.9" width="0.70" height="16.90" fill="#a0a0a0"/>
<rect x="465.9" y="298.9" width="0.80" height="16.90" fill="#a0a0a0"/>
<rect x="486.1" y="298.9" width="0.70" height="16.90" fill="#c0c0c0"/>
<rect x="487.5" y="298.9" width="0.80" height="16.90" fill="#b0b0b0"/>
<rect x="491.5" y="298.9" width="0.80" height="16.90" fill="#989898"/>
<rect x="496.1" y="298.9" width="0.80" height="16.90" fill="#a8a8a8"/>
<rect x="498.9" y="298.9" width="3.60" height="16.90" fill="#a8a8a8"/>
<rect x="499.4" y="298.9" width="0.80" height="16.90" fill="#808080"/>
<rect x="501.0" y="298.9" width="0.80" height="16.90" fill="#888888"/>
<rect x="502.6" y="298.9" width="1.30" height="16.90" fill="#050505"/>
<rect x="412.7" y="315.8" width="19.90" height="3.30" fill="#d52b3b"/>
<rect x="432.6" y="315.8" width="18.70" height="3.30" fill="#e06373"/>
<rect x="451.3" y="315.8" width="10.60" height="3.30" fill="#eeb8da"/>
<rect x="461.9" y="315.8" width="11.10" height="3.30" fill="#dcd6f2"/>
<rect x="473.0" y="315.8" width="7.80" height="3.30" fill="#bcb3e4"/>
<rect x="480.8" y="315.8" width="6.50" height="3.30" fill="#6a64c4"/>
<rect x="487.3" y="315.8" width="16.60" height="3.30" fill="#3a33a0"/>
<line x1="277.1" y1="328.5" x2="294.7" y2="328.5" stroke="#d8484c" stroke-width="1.2"/>
<line x1="348.6" y1="328.5" x2="366.2" y2="328.5" stroke="#5b7fd0" stroke-width="1.2"/>
<line x1="412" y1="328.5" x2="428.9" y2="328.5" stroke="#d8484c" stroke-width="1.2"/>
<line x1="485" y1="328.5" x2="502.6" y2="328.5" stroke="#5b7fd0" stroke-width="1.2"/>
<text x="272.7" y="338.9" font-size="7.4" textLength="26.5" lengthAdjust="spacingAndGlyphs" fill="#1c1c1c" stroke="#1c1c1c" stroke-width="0.13" >rPC2 up</text>
<text x="285.8" y="347.8" font-size="7.4" text-anchor="middle" textLength="19.7" lengthAdjust="spacingAndGlyphs" fill="#1c1c1c" stroke="#1c1c1c" stroke-width="0.13" >genes</text>
<text x="339.1" y="338.9" font-size="7.4" textLength="36.6" lengthAdjust="spacingAndGlyphs" fill="#1c1c1c" stroke="#1c1c1c" stroke-width="0.13" >rPC2 down</text>
<text x="357" y="347.8" font-size="7.4" text-anchor="middle" textLength="19.7" lengthAdjust="spacingAndGlyphs" fill="#1c1c1c" stroke="#1c1c1c" stroke-width="0.13" >genes</text>
<text x="406.9" y="338.9" font-size="7.4" textLength="27.3" lengthAdjust="spacingAndGlyphs" fill="#1c1c1c" stroke="#1c1c1c" stroke-width="0.13" >rPC2 up</text>
<text x="420.6" y="347.8" font-size="7.4" text-anchor="middle" textLength="19.7" lengthAdjust="spacingAndGlyphs" fill="#1c1c1c" stroke="#1c1c1c" stroke-width="0.13" >genes</text>
<text x="475.8" y="338.9" font-size="7.4" textLength="36.4" lengthAdjust="spacingAndGlyphs" fill="#1c1c1c" stroke="#1c1c1c" stroke-width="0.13" >rPC2 down</text>
<text x="494.1" y="347.8" font-size="7.4" text-anchor="middle" textLength="19.7" lengthAdjust="spacingAndGlyphs" fill="#1c1c1c" stroke="#1c1c1c" stroke-width="0.13" >genes</text>
</g>
<rect x="0" y="0" width="520" height="1.5" fill="#000"/>
<rect x="0" y="0" width="1.2" height="417" fill="#000"/>
<rect x="518.7" y="0" width="1.3" height="417" fill="#000"/>
<rect x="0" y="415.8" width="520" height="1.2" fill="#000"/>
</svg></body></html>
